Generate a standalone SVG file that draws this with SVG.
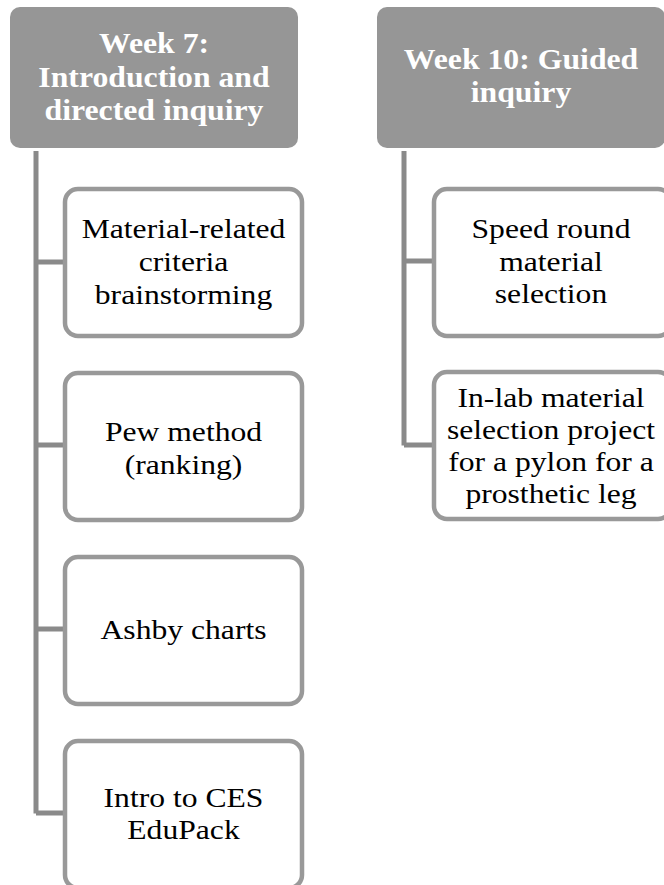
<svg xmlns="http://www.w3.org/2000/svg" width="664" height="885" viewBox="0 0 664 885">
<style>
.hdr{fill:#969696}
.hdrt{font-family:"Liberation Serif",serif;font-weight:bold;font-size:29px;fill:#ffffff;text-anchor:middle}
.box{fill:#ffffff;stroke:#999999;stroke-width:4.5}
.bt{font-family:"Liberation Serif",serif;font-size:28px;fill:#000000;text-anchor:middle}
.con{fill:none;stroke:#8a8a8a;stroke-width:5}
</style>
<rect width="664" height="885" fill="#ffffff"/>
<g id="connectors">
<path class="con" d="M36,151 V813.5 M36,262 H64 M36,445 H64 M36,629 H64 M36,813 H64"/>
<path class="con" d="M404,151 V445.5 M404,261 H433 M404,445 H433"/>
</g>
<g id="week7">
<rect class="hdr" x="10" y="7" width="288" height="141" rx="10"/>
<g transform="translate(154 0) scale(1.095 1)">
<text class="hdrt" x="0" y="53">Week 7:</text>
<text class="hdrt" x="0" y="87">Introduction and</text>
<text class="hdrt" x="0" y="120">directed inquiry</text>
</g>
</g>
<g id="week10">
<rect class="hdr" x="377" y="7" width="288" height="141" rx="10"/>
<g transform="translate(521 0) scale(1.095 1)">
<text class="hdrt" x="0" y="69">Week 10: Guided</text>
<text class="hdrt" x="0" y="102">inquiry</text>
</g>
</g>
<g id="n1">
<rect class="box" x="65" y="189" width="237" height="147" rx="13"/>
<g transform="translate(183.5 0) scale(1.13 1)">
<text class="bt" x="0" y="238">Material-related</text>
<text class="bt" x="0" y="271">criteria</text>
<text class="bt" x="0" y="304">brainstorming</text>
</g>
</g>
<g id="n2">
<rect class="box" x="65" y="373" width="237" height="147" rx="13"/>
<g transform="translate(183.5 0) scale(1.13 1)">
<text class="bt" x="0" y="441">Pew method</text>
<text class="bt" x="0" y="474">(ranking)</text>
</g>
</g>
<g id="n3">
<rect class="box" x="65" y="557" width="237" height="147" rx="13"/>
<g transform="translate(183.5 0) scale(1.13 1)">
<text class="bt" x="0" y="639">Ashby charts</text>
</g>
</g>
<g id="n4">
<rect class="box" x="65" y="741" width="237" height="147" rx="13"/>
<g transform="translate(183.5 0) scale(1.13 1)">
<text class="bt" x="0" y="807">Intro to CES</text>
<text class="bt" x="0" y="839">EduPack</text>
</g>
</g>
<g id="n5">
<rect class="box" x="434" y="189" width="237" height="147" rx="13"/>
<g transform="translate(551 0) scale(1.13 1)">
<text class="bt" x="0" y="238">Speed round</text>
<text class="bt" x="0" y="271">material</text>
<text class="bt" x="0" y="303">selection</text>
</g>
</g>
<g id="n6">
<rect class="box" x="434" y="372" width="237" height="147" rx="13"/>
<g transform="translate(551 0) scale(1.13 1)">
<text class="bt" x="0" y="407">In-lab material</text>
<text class="bt" x="0" y="439">selection project</text>
<text class="bt" x="0" y="471">for a pylon for a</text>
<text class="bt" x="0" y="503">prosthetic leg</text>
</g>
</g>
</svg>
